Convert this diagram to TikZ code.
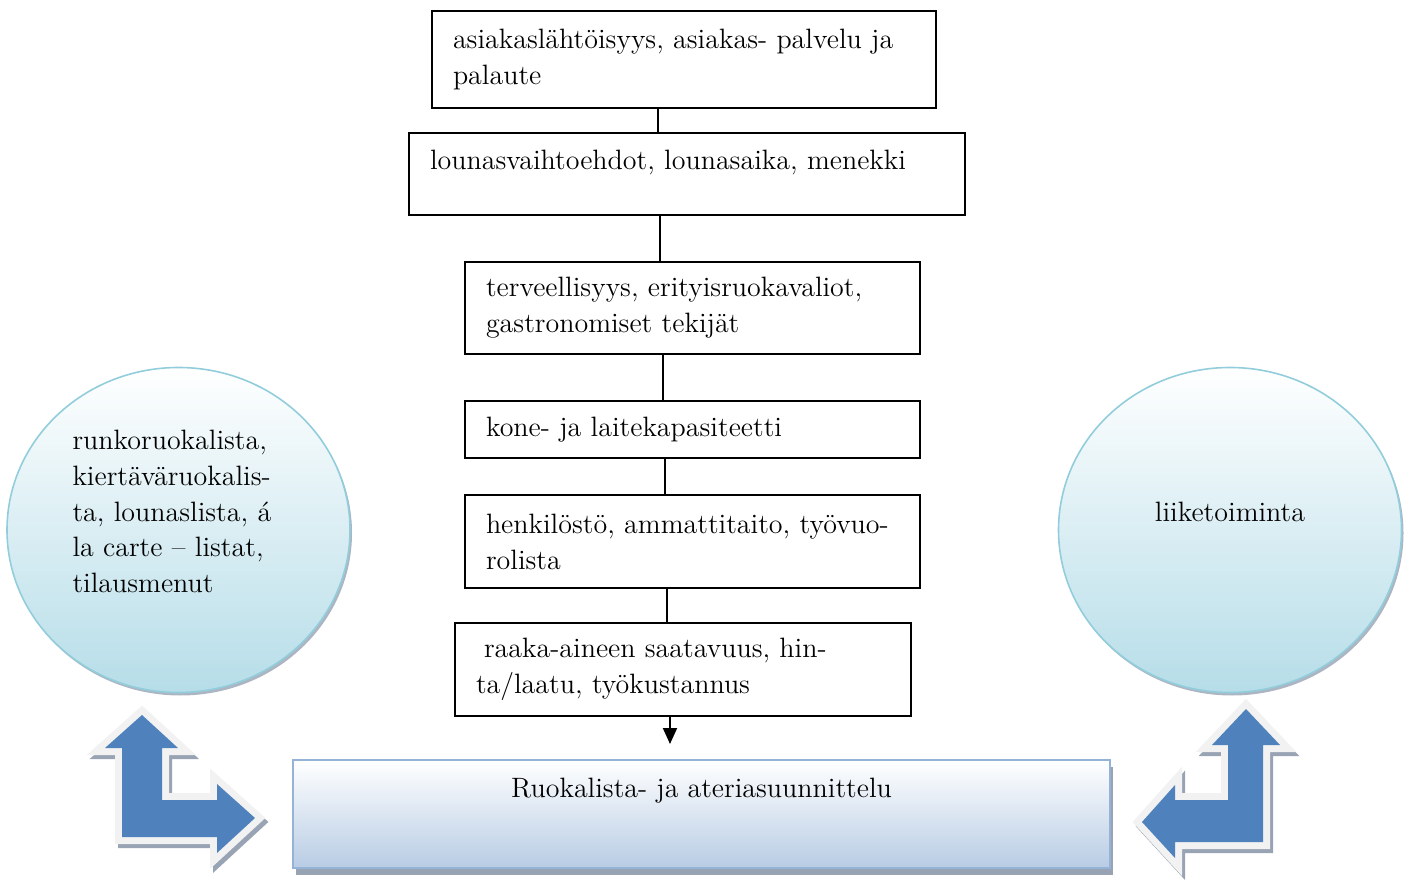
\documentclass[tikz,border=0pt]{standalone}
\usepackage{xcolor}
\usepackage{tikz}
\usetikzlibrary{arrows.meta,shadows,shapes.geometric}

\definecolor{arrowblue}{HTML}{4F81BD}
\definecolor{rimgray}{HTML}{F2F2F2}
\definecolor{shadegray}{HTML}{98A3B4}
\definecolor{planborder}{HTML}{95B3D7}
\definecolor{planfill}{HTML}{B8CCE4}
\definecolor{ballborder}{HTML}{92CDDC}
\definecolor{ballfill}{HTML}{B6DDE8}

\begin{document}
\begin{tikzpicture}[x=0.5pt, y=-0.5pt, semithick, inner sep=0pt,
    font=\fontsize{14}{18}\selectfont,
    box/.style={draw, line width=1pt, align=left, inner xsep=10.5pt},
    plan/.style={draw=planborder, line width=1pt, top color=white, bottom color=planfill,
      drop shadow={shadow xshift=1.5pt, shadow yshift=-3.5pt, fill=shadegray, opacity=1}},
    ball/.style={ellipse, draw=ballborder, line width=0.8pt, top color=white, bottom color=ballfill,
      minimum width=171.5pt, minimum height=162.5pt,
      drop shadow={shadow xshift=1pt, shadow yshift=-1.5pt, fill=shadegray, opacity=0.8}},
    bent/.style={fill=arrowblue, line join=miter,
      preaction={draw=shadegray, fill=shadegray, line width=7pt, transform canvas={shift={(3,4)}}},
      preaction={draw=rimgray, fill=rimgray, line width=7pt}}]

  \useasboundingbox (0,0) rectangle (1409,882);

  \node[box, text width=231pt, minimum height=48.5pt] (b1) at (684,59.5) {asiakaslähtöisyys, asiakas- palvelu ja\\palaute};
  \node[box, text width=257pt, minimum height=41pt, text depth=14pt] (b2) at (687,174) {lounasvaihtoehdot, lounasaika, menekki};
  \node[box, text width=206.5pt, minimum height=46pt] (b3) at (692.5,308) {terveellisyys, erityisruokavaliot,\\gastronomiset tekijät};
  \node[box, text width=206.5pt, minimum height=28.5pt] (b4) at (692.5,429.5) {kone- ja laitekapasiteetti};
  \node[box, text width=206.5pt, minimum height=46.5pt] (b5) at (692.5,541.5) {henkilöstö, ammattitaito, työvuo-\\rolista};
  \node[box, text width=207pt, minimum height=46.5pt] (b6) at (683,669.5) {\hspace*{4pt}raaka-aineen saatavuus, hin-\\ta/laatu, työkustannus};

  \node[plan, minimum width=408.5pt, minimum height=54pt, text height=10pt, text depth=27pt] (plan) at (701.5,814) {Ruokalista- ja ateriasuunnittelu};

  \node[ball, text width=106pt, align=left, text height=10pt, text depth=91pt] (menus) at (178.5,530) {runkoruokalista,\\kiertäväruokalis-\\ta, lounaslista, á\\la carte -- listat,\\tilausmenut};
  \node[ball, text height=10pt, text depth=19pt] (biz) at (1230,530) {liiketoiminta};

  \draw[line width=1pt] (b1.south -| 658,0) -- (b2.north -| 658,0);
  \draw[line width=1pt] (b2.south -| 660,0) -- (b3.north -| 660,0);
  \draw[line width=1pt] (b3.south -| 663,0) -- (b4.north -| 663,0);
  \draw[line width=1pt] (b4.south -| 665,0) -- (b5.north -| 665,0);
  \draw[line width=1pt] (b5.south -| 667,0) -- (b6.north -| 667,0);
  \draw[line width=1pt, -{Triangle[length=8pt,width=7pt]}, shorten >=7.5pt] (b6.south -| 670,0) -- (plan.north -| 670,0);

  % bent arrows
  \path[bent] (142,715) -- (178,748) -- (162,748) -- (162,800) -- (217,800) -- (217,784) -- (255,818)
    -- (217,853) -- (217,837) -- (122,837) -- (122,748) -- (105,748) -- cycle;
  \path[bent] (1246,709) -- (1280,745) -- (1263,745) -- (1263,842) -- (1175,842) -- (1175,858) -- (1142,822)
    -- (1175,785) -- (1175,800) -- (1228,800) -- (1228,745) -- (1212,745) -- cycle;

\end{tikzpicture}
\end{document}
